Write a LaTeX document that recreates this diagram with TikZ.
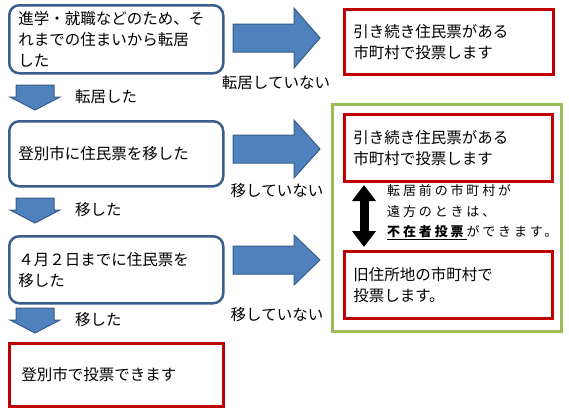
\documentclass[tikz,border=0pt]{standalone}
\usepackage{fontspec}
\setmainfont{Noto Sans CJK JP}
\usetikzlibrary{arrows.meta}
\definecolor{boxblue}{HTML}{3A5F8B}
\definecolor{arrfill}{HTML}{4F81BD}
\definecolor{arredge}{HTML}{385D8A}
\definecolor{boxred}{HTML}{C00000}
\definecolor{boxgreen}{HTML}{9BBB59}
\newcommand\rblock[3]{% x0, yc, head half
  \draw[barrow] (#1,#2-14) -- (#1+61,#2-14) -- (#1+61,#2-#3) -- (#1+87,#2) -- (#1+61,#2+#3) -- (#1+61,#2+14) -- (#1,#2+14) -- cycle;}
\newcommand\dblock[1]{% top y
  \draw[barrow] (16,#1) -- (54,#1) -- (54,#1+12) -- (60,#1+12) -- (35,#1+25) -- (10,#1+12) -- (16,#1+12) -- cycle;}
\begin{document}
\begin{tikzpicture}[x=1pt,y=-1pt,
  rbox/.style={draw=boxblue, line width=2.5pt, rounded corners=10pt, fill=white, anchor=north west,
     align=left, inner xsep=9pt, inner ysep=0pt, font=\fontsize{15.5}{21}\selectfont},
  redbox/.style={draw=boxred, line width=2.5pt, fill=white, anchor=north west,
     align=left, inner xsep=9pt, inner ysep=0pt, font=\fontsize{15.5}{21}\selectfont},
  greenbox/.style={draw=boxgreen, line width=2.5pt, anchor=north west},
  barrow/.style={fill=arrfill, draw=arredge, line width=1pt},
  lbl/.style={font=\fontsize{15.5}{20}\selectfont, inner sep=0pt},
  note/.style={font=\fontsize{13}{20.5}\selectfont\addfontfeature{LetterSpace=22}, inner sep=0pt, align=left, anchor=west}]
\useasboundingbox (0,0) rectangle (569,416);
\fill[white] (0,0) rectangle (569,416);
% left column
\node[rbox, minimum width=214pt, minimum height=68pt, text width=196pt] (b1) at (8,4)
  {進学・就職などのため、そ\\れまでの住まいから転居\\した};
\node[rbox, minimum width=214pt, minimum height=65pt, text width=196pt] (b2) at (8,120)
  {登別市に住民票を移した};
\node[rbox, minimum width=214pt, minimum height=67pt, text width=196pt] (b3) at (8,235)
  {４月２日までに住民票を\\移した};
\node[redbox, minimum width=214pt, minimum height=63pt, text width=190pt, inner xsep=12pt] (b4) at (8,342)
  {登別市で投票できます};
% right column
\node[greenbox, minimum width=229pt, minimum height=227pt] (g) at (331,103) {};
\node[redbox, minimum width=209pt, minimum height=65pt, text width=191pt] (r1) at (343,8)
  {引き続き住民票がある\\市町村で投票します};
\node[redbox, minimum width=208pt, minimum height=67pt, text width=190pt] (r2) at (343,113)
  {引き続き住民票がある\\市町村で投票します\\[-6pt]};
\node[redbox, minimum width=208pt, minimum height=67pt, text width=190pt] (r3) at (343,250)
  {旧住所地の市町村で\\投票します。};
% block arrows
\rblock{233}{38}{30}
\rblock{233}{149}{29}
\rblock{233}{260}{25}
\dblock{85}
\dblock{198}
\dblock{308}
% labels
\node[lbl] (l1) at (276,83) {転居していない};
\node[lbl, anchor=west] (l2) at (75,97) {転居した};
\node[lbl] (l3) at (277,191) {移していない};
\node[lbl, anchor=west] (l4) at (75,210) {移した};
\node[lbl] (l5) at (277,315) {移していない};
\node[lbl, anchor=west] (l6) at (75,320) {移した};
% double arrow
\coordinate (dtop) at (364,185);
\coordinate (dbot) at (364,247);
\draw[line width=9pt, {Triangle[length=16pt,width=23pt]}-{Triangle[length=16pt,width=23pt]}] (dtop) -- (dbot);
\node[note] (n1) at (387,212.5)
  {転居前の市町村が\\遠方のときは、\\\underline{\textbf{不在者投票}}ができます。};
\end{tikzpicture}
\end{document}
